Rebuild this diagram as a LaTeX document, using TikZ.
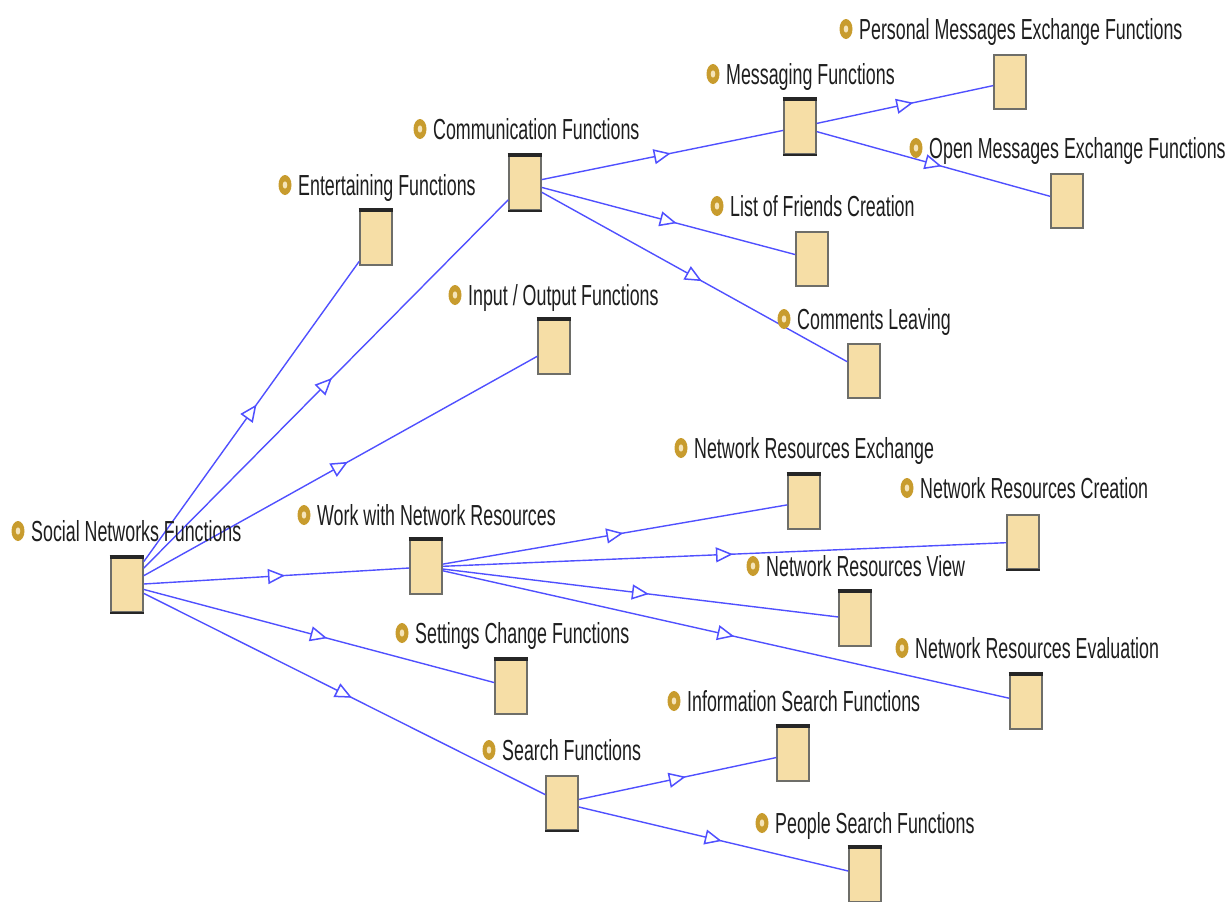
\documentclass[tikz,border=0pt]{standalone}
\usepackage{fontspec}
\setmainfont{Liberation Sans}[FakeStretch=0.615]
\usetikzlibrary{arrows.meta,decorations.markings}
\definecolor{edgeblue}{RGB}{80,80,255}
\definecolor{boxfill}{RGB}{246,222,166}
\definecolor{boxgray}{RGB}{110,110,105}
\definecolor{icongold}{RGB}{200,156,46}
\definecolor{iconcream}{RGB}{245,228,185}
\definecolor{txt}{RGB}{30,30,30}
\newcommand\lbl[4]{%
  \fill[icongold] (#2,#3) ellipse [x radius=6.5, y radius=10];
  \fill[iconcream] (#2,#3) ellipse [x radius=2.3, y radius=3.6];
  \node[lbltext] (#1t) at ({#2+13},{#3+10}) {#4};}
\newcommand\darktop[1]{\draw[line width=3.5pt,black!85] ([xshift=-0.5pt]#1.north west) -- ([xshift=0.5pt]#1.north east);}
\begin{document}
\begin{tikzpicture}[x=1pt,y=-1pt,
  fbox/.style={draw=boxgray, fill=boxfill, line width=1.6pt, minimum width=32pt, minimum height=54pt, inner sep=0pt},
  lbltext/.style={anchor=base west, inner sep=0pt, text=txt, font=\fontsize{29}{34}\selectfont},
  rel/.style={draw=edgeblue, line width=1.4pt, postaction={decorate},
    decoration={markings, mark=at position 0.5 with {\arrow[xshift=8.5pt]{Triangle[length=17pt, width=15pt, line width=1.5pt, fill=white]}}}}]
\useasboundingbox (0,0) rectangle (1227,902);
% boxes
\node[fbox] (soc) at (127,585) {};
\node[fbox] (ent) at (376,238) {};
\node[fbox] (com) at (525,183) {};
\node[fbox] (io) at (554,347) {};
\node[fbox] (work) at (426,567) {};
\node[fbox] (set) at (511,687) {};
\node[fbox] (sea) at (562,803) {};
\node[fbox] (msg) at (800,127) {};
\node[fbox] (pers) at (1010,82) {};
\node[fbox] (open) at (1067,201) {};
\node[fbox] (list) at (812,259) {};
\node[fbox] (cmt) at (864,371) {};
\node[fbox] (nrx) at (804,502) {};
\node[fbox] (nrc) at (1023,542) {};
\node[fbox] (nrv) at (855,619) {};
\node[fbox] (nre) at (1026,702) {};
\node[fbox] (inf) at (793,754) {};
\node[fbox] (ppl) at (865,875) {};
% dark top edges
\foreach \n in {ent,com,io,work,set,msg,nrx,nrv,nre,inf,ppl,soc}{\darktop{\n}}
\foreach \n in {soc,com,msg,nrc,sea}{\draw[line width=2.5pt,black!85] (\n.south west) -- (\n.south east);}
% edges
\draw[rel] (soc) -- (ent);
\draw[rel] (soc) -- (com);
\draw[rel] (soc) -- (io);
\draw[rel] (soc) -- (work);
\draw[rel] (soc) -- (set);
\draw[rel] (soc) -- (sea);
\draw[rel] (com) -- (msg);
\draw[rel] (com) -- (list);
\draw[rel] (com) -- (cmt);
\draw[rel] (msg) -- (pers);
\draw[rel] (msg) -- (open);
\draw[rel] (work) -- (nrx);
\draw[rel] (work) -- (nrc);
\draw[rel] (work) -- (nrv);
\draw[rel] (work) -- (nre);
\draw[rel] (sea) -- (inf);
\draw[rel] (sea) -- (ppl);
% labels
\lbl{soc}{18}{531}{Social Networks Functions}
\lbl{ent}{285}{185}{Entertaining Functions}
\lbl{com}{420}{129}{Communication Functions}
\lbl{io}{455}{295}{Input / Output Functions}
\lbl{work}{304}{515}{Work with Network Resources}
\lbl{set}{402}{633}{Settings Change Functions}
\lbl{sea}{489}{750}{Search Functions}
\lbl{msg}{713}{74}{Messaging Functions}
\lbl{pers}{846}{29}{Personal Messages Exchange Functions}
\lbl{open}{916}{148}{Open Messages Exchange Functions}
\lbl{list}{717}{206}{List of Friends Creation}
\lbl{cmt}{784}{319}{Comments Leaving}
\lbl{nrx}{681}{448}{Network Resources Exchange}
\lbl{nrc}{907}{488}{Network Resources Creation}
\lbl{nrv}{753}{566}{Network Resources View}
\lbl{nre}{902}{648}{Network Resources Evaluation}
\lbl{inf}{674}{701}{Information Search Functions}
\lbl{ppl}{762}{823}{People Search Functions}
\end{tikzpicture}
\end{document}
